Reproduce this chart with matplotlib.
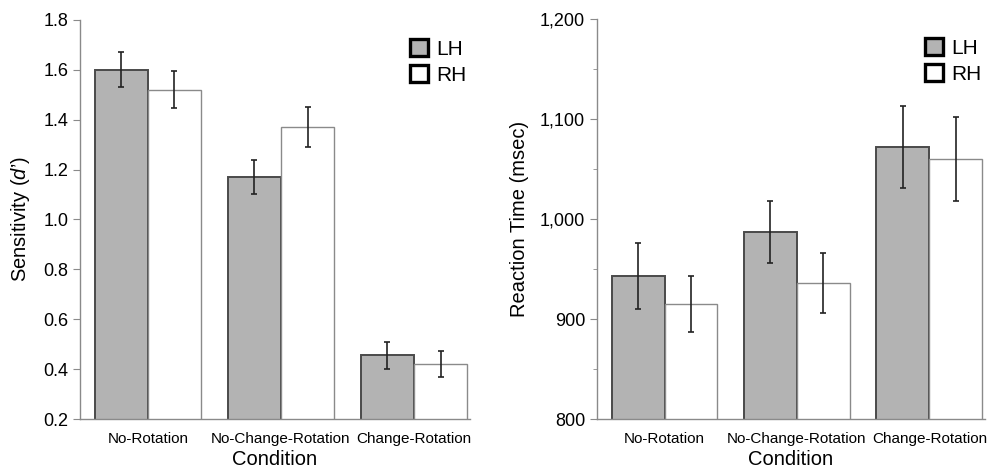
import matplotlib.pyplot as plt
import numpy as np
from matplotlib.patches import Patch
from matplotlib.ticker import MultipleLocator, StrMethodFormatter

plt.rcParams['font.family'] = ['Liberation Sans', 'DejaVu Sans']
plt.rcParams['mathtext.fontset'] = 'custom'
plt.rcParams['mathtext.it'] = 'Liberation Sans:italic'
plt.rcParams['mathtext.rm'] = 'Liberation Sans'

conditions = ['No-Rotation', 'No-Change-Rotation', 'Change-Rotation']
groups = ['LH', 'RH']

# sensitivity (d')
lh_dprime = [1.60, 1.17, 0.455]
rh_dprime = [1.52, 1.37, 0.42]
lh_dprime_err = [0.07, 0.068, 0.055]
rh_dprime_err = [0.075, 0.08, 0.052]

# reaction time (msec)
lh_rt = [943, 987, 1072]
rh_rt = [915, 936, 1060]
lh_rt_err = [33, 31, 41]
rh_rt_err = [28, 30, 42]

lh_color = '#b3b3b3'
rh_color = '#ffffff'
spine_color = '#8a8a8a'


def draw_panel(ax, lh, rh, lh_err, rh_err):
    x = np.arange(len(conditions))
    w = 0.4
    ax.bar(x - w / 2, lh, w, color=lh_color, edgecolor='#4a4a4a', linewidth=1.4, zorder=2)
    ax.bar(x + w / 2, rh, w, color=rh_color, edgecolor='#8a8a8a', linewidth=1.0, zorder=2)
    ax.errorbar(x - w / 2, lh, yerr=lh_err, fmt='none', ecolor='#222222',
                elinewidth=1.2, capsize=2.5, capthick=1.2, zorder=3)
    ax.errorbar(x + w / 2, rh, yerr=rh_err, fmt='none', ecolor='#222222',
                elinewidth=1.2, capsize=2.5, capthick=1.2, zorder=3)
    ax.set_xticks(x)
    ax.set_xticklabels(conditions, fontsize=11)
    ax.tick_params(axis='x', length=0, pad=9)
    ax.tick_params(axis='y', labelsize=13, direction='out', color=spine_color, length=5)
    ax.tick_params(axis='y', which='minor', direction='out', color=spine_color, length=3)
    ax.set_xlim(-0.51, 2.42)
    for s in ['top', 'right']:
        ax.spines[s].set_visible(False)
    for s in ['left', 'bottom']:
        ax.spines[s].set_color(spine_color)
        ax.spines[s].set_linewidth(1.0)
    ax.set_xlabel('Condition', fontsize=14.5, labelpad=3)
    handles = [Patch(facecolor=lh_color, edgecolor='black', linewidth=2.4),
               Patch(facecolor=rh_color, edgecolor='black', linewidth=2.4)]
    ax.legend(handles, groups, loc='upper right', frameon=False, fontsize=15,
              handlelength=0.85, handleheight=0.85, handletextpad=0.4,
              labelspacing=0.3, borderaxespad=0.0, bbox_to_anchor=(1.013, 0.972))


fig = plt.figure(figsize=(9.91, 4.74), dpi=100)
ax1 = fig.add_axes([0.0807, 0.116, 0.3935, 0.842])
ax2 = fig.add_axes([0.6024, 0.116, 0.3915, 0.844])

draw_panel(ax1, lh_dprime, rh_dprime, lh_dprime_err, rh_dprime_err)
ax1.set_ylim(0.2, 1.8)
ax1.yaxis.set_major_locator(MultipleLocator(0.2))
ax1.yaxis.set_major_formatter(StrMethodFormatter('{x:.1f}'))
ax1.set_ylabel('Sensitivity ($d$’)', fontsize=14.5, labelpad=8)

draw_panel(ax2, lh_rt, rh_rt, lh_rt_err, rh_rt_err)
ax2.set_ylim(800, 1200)
ax2.yaxis.set_major_locator(MultipleLocator(100))
ax2.yaxis.set_minor_locator(MultipleLocator(50))
ax2.yaxis.set_major_formatter(StrMethodFormatter('{x:,.0f}'))
ax2.set_ylabel('Reaction Time (msec)', fontsize=14.5, labelpad=8)

fig.savefig('out.png', dpi=100)
